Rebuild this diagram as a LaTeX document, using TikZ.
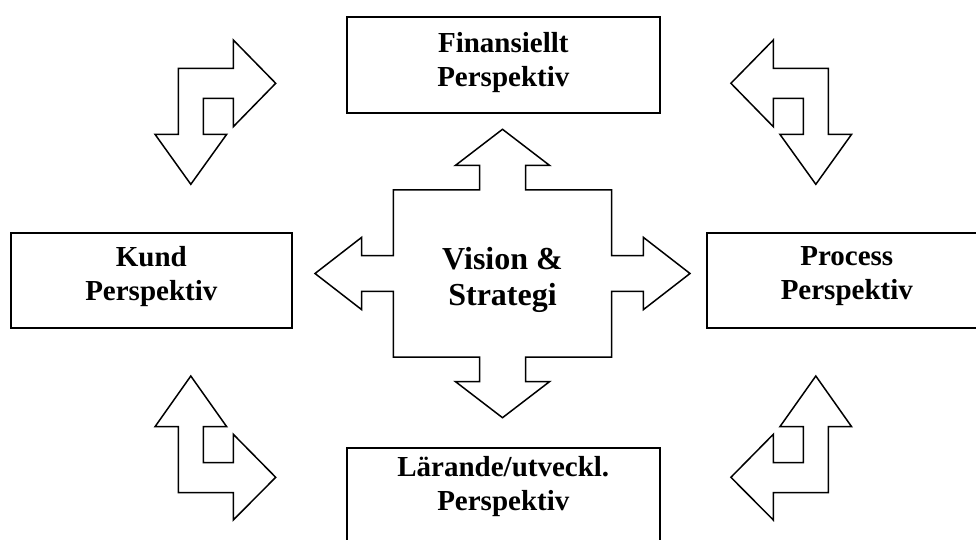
\documentclass[tikz,border=0pt]{standalone}
\usepackage{fontspec}
\setmainfont{Liberation Serif}
\begin{document}
\begin{tikzpicture}[x=1pt,y=-1pt,
  persbox/.style={draw=black,line width=1.9pt,fill=white,inner sep=0pt},
  perstext/.style={align=center,font=\bfseries\fontsize{29}{34}\selectfont,inner sep=0pt},
  visiontext/.style={align=center,font=\bfseries\fontsize{32}{36.5}\selectfont,inner sep=0pt},
  blockarrow/.style={draw=black,line width=1.5pt,fill=white,line join=miter}]
\useasboundingbox (0,0) rectangle (976,540);
\clip (0,0) rectangle (976,540);

% perspective boxes
\node (fin) [persbox,minimum width=313.3pt,minimum height=96pt] at (503.3,64.7) {};
\node (kund) [persbox,minimum width=280.7pt,minimum height=95.6pt] at (151.3,280.5) {};
\node (proc) [persbox,minimum width=280.3pt,minimum height=95.6pt] at (846.8,280.5) {};
\node (lar) [persbox,minimum width=313.3pt,minimum height=96pt] at (503.3,496.3) {};

\node (fintext) [perstext] at (503.3,63) {Finansiellt\\Perspektiv};
\node (kundtext) [perstext] at (151.3,276.5) {Kund\\Perspektiv};
\node (proctext) [perstext] at (846.8,276.5) {Process\\Perspektiv};
\node (lartext) [perstext] at (503.3,486.7) {Lärande/utveckl.\\Perspektiv};

% central four-way arrow
\draw[blockarrow]
  (502.5,129.3) -- (549.7,165.5) -- (525.5,165.5) -- (525.5,189.85)
  -- (611.7,189.85) -- (611.7,255.65) -- (643.3,255.65) -- (643.3,237.3)
  -- (690,273.5) -- (643.3,309.7) -- (643.3,291.35) -- (611.7,291.35)
  -- (611.7,357.15) -- (525.5,357.15) -- (525.5,381.5) -- (549.7,381.5)
  -- (502.5,417.7) -- (455.3,381.5) -- (479.5,381.5) -- (479.5,357.15)
  -- (393.3,357.15) -- (393.3,291.35) -- (361.7,291.35) -- (361.7,309.7)
  -- (315,273.5) -- (361.7,237.3) -- (361.7,255.65) -- (393.3,255.65)
  -- (393.3,189.85) -- (479.5,189.85) -- (479.5,165.5) -- (455.3,165.5) -- cycle;
\node (vision) [visiontext] at (502.5,280) {Vision \&\\Strategi};

% corner arrows, upper pair
\draw[blockarrow]
  (178.3,68.3) -- (233.3,68.3) -- (233.3,40) -- (275.7,83.3) -- (233.3,126.7)
  -- (233.3,98.3) -- (203.3,98.3) -- (203.3,134.3) -- (226.7,134.3)
  -- (190.8,184.3) -- (155,134.3) -- (178.3,134.3) -- cycle;
\begin{scope}[xshift=1006.6pt,xscale=-1]
\draw[blockarrow]
  (178.3,68.3) -- (233.3,68.3) -- (233.3,40) -- (275.7,83.3) -- (233.3,126.7)
  -- (233.3,98.3) -- (203.3,98.3) -- (203.3,134.3) -- (226.7,134.3)
  -- (190.8,184.3) -- (155,134.3) -- (178.3,134.3) -- cycle;
\end{scope}

% corner arrows, lower pair
\draw[blockarrow]
  (190.8,376) -- (226.7,426.7) -- (203.3,426.7) -- (203.3,462.7) -- (233.3,462.7)
  -- (233.3,434.3) -- (275.7,477.3) -- (233.3,520) -- (233.3,492.7)
  -- (178.3,492.7) -- (178.3,426.7) -- (155,426.7) -- cycle;
\begin{scope}[xshift=1006.6pt,xscale=-1]
\draw[blockarrow]
  (190.8,376) -- (226.7,426.7) -- (203.3,426.7) -- (203.3,462.7) -- (233.3,462.7)
  -- (233.3,434.3) -- (275.7,477.3) -- (233.3,520) -- (233.3,492.7)
  -- (178.3,492.7) -- (178.3,426.7) -- (155,426.7) -- cycle;
\end{scope}
\end{tikzpicture}
\end{document}
